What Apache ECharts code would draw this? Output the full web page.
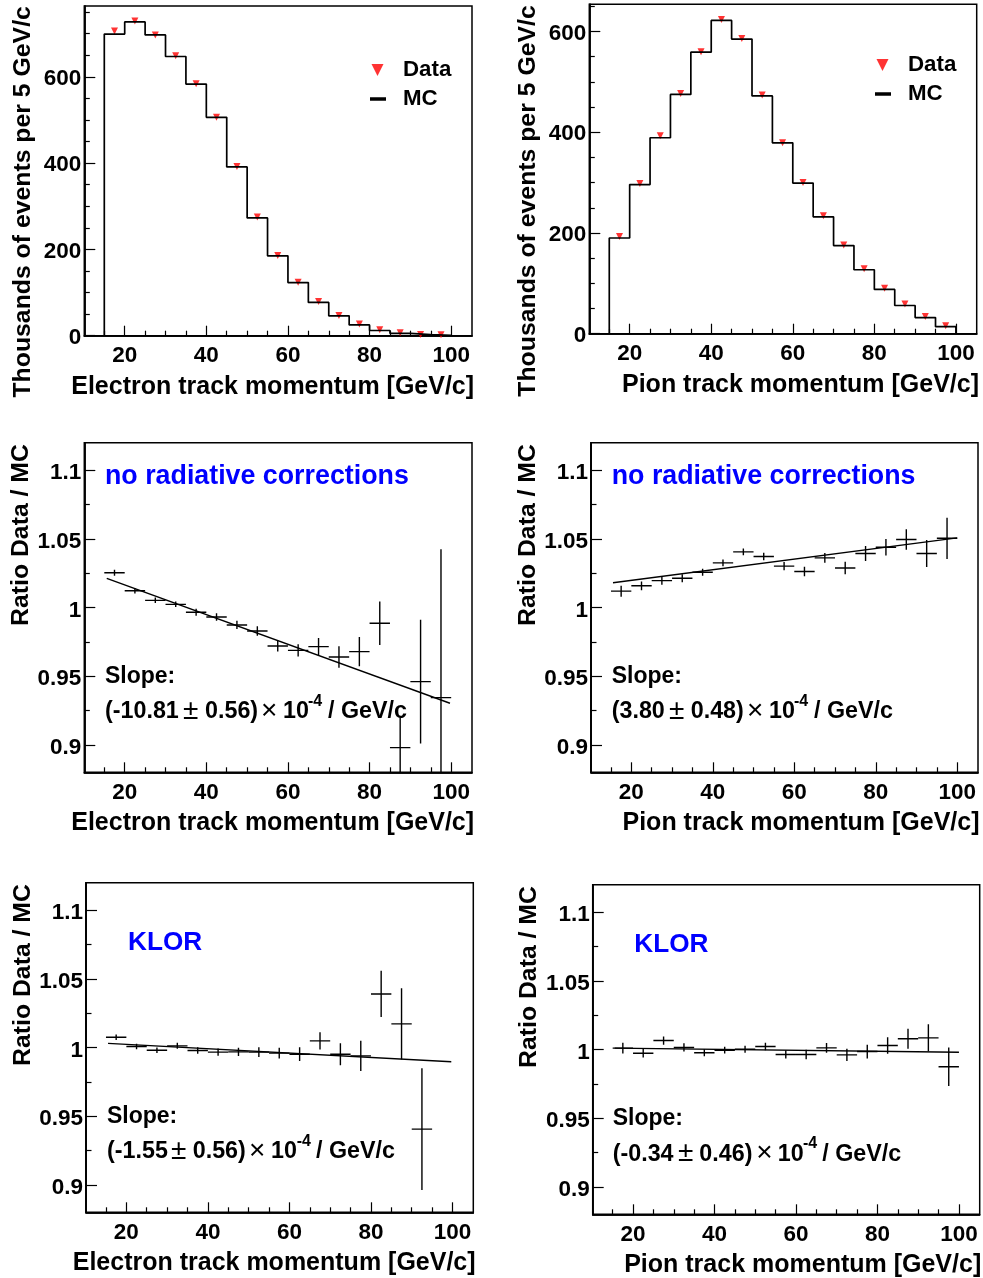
<!DOCTYPE html>
<html><head><meta charset="utf-8">
<style>html,body{margin:0;padding:0;background:#fff}#c{width:983px;height:1278px}</style>
<script src="https://cdn.jsdelivr.net/npm/echarts@6/dist/echarts.min.js"></script>
</head><body><div id="c"></div>
<script>
// ---- data ----
const binEdges = [15,20,25,30,35,40,45,50,55,60,65,70,75,80,85,90,95,100];
const binCenters = [17.5,22.5,27.5,32.5,37.5,42.5,47.5,52.5,57.5,62.5,67.5,72.5,77.5,82.5,87.5,92.5,97.5];
const electronMC = [699,727,697,647,583,506,391,273,185,123,77,46,25,12,5.5,2.5,1];
const electronData = [706,729,697,649,584,506,392,275,186,124,79,47,27,14,7,3,2];
const pionMC = [190,296,389,475,559,622,585,472,379,299,232,175,127,88,56,32,14];
const pionData = [193,298,393,477,560,624,586,474,379,300,234,176,129,90,59,34,16];
const electronNoRad = [1.0253,1.0122,1.0052,1.0023,0.9965,0.9931,0.9873,0.9829,0.972,0.9688,0.9715,0.964,0.9679,0.9885,0.898,0.946,0.9344];
const electronNoRadErr = [0.0022,0.002,0.002,0.002,0.0025,0.0027,0.003,0.0035,0.004,0.0045,0.0063,0.0078,0.0107,0.0158,0.0225,0.0451,0.108];
const electronNoRadFit = [[15.6,1.0212],[99.7,0.9303]];
const pionNoRad = [1.0119,1.0158,1.0196,1.0213,1.0257,1.0325,1.0405,1.0371,1.0301,1.0262,1.0361,1.0288,1.0393,1.0439,1.0495,1.0393,1.0504];
const pionNoRadErr = [0.004,0.0032,0.003,0.003,0.0025,0.0025,0.0025,0.0027,0.003,0.0035,0.0035,0.0045,0.0055,0.006,0.0075,0.0098,0.015];
const pionNoRadFit = [[15.5,1.018],[100,1.0507]];
const electronKlor = [1.0075,1.0007,0.998,1.0012,0.9978,0.9966,0.9968,0.9966,0.9959,0.9951,1.0048,0.9951,0.9939,1.039,1.0172,0.9406,null];
const electronKlorErr = [0.002,0.002,0.002,0.0022,0.0024,0.0026,0.003,0.0035,0.004,0.005,0.0063,0.008,0.011,0.0168,0.026,0.0443,null];
const electronKlorFit = [[15.5,1.003],[99.7,0.9896]];
const pionKlor = [1.001,0.9973,1.0065,1.0015,0.9976,0.9995,1.0002,1.0022,0.9964,0.9964,1.0012,0.9961,0.9985,1.0029,1.0078,1.0085,0.9874];
const pionKlorErr = [0.004,0.0032,0.003,0.003,0.0025,0.0025,0.0025,0.0027,0.003,0.0035,0.0035,0.0045,0.005,0.006,0.0073,0.0098,0.014];
const pionKlorFit = [[15.5,1.001],[100,0.998]];
const xMajorTicks = [20,40,60,80,100];
const xMinorTicks = [15,25,30,35,45,50,55,65,70,75,85,90,95];
const histMajorTicks = [0,200,400,600];
const electronHistMinor = [50,100,150,250,300,350,450,500,550,650,700,750];
const pionHistMinor = [50,100,150,250,300,350,450,500,550,650];
const ratioMajorTicks = [0.9,0.95,1,1.05,1.1];
const ratioMinorTicks = [0.925,0.975,1.025,1.075];

// ---- layout ----
const FONT = '"Liberation Sans", Arial, sans-serif';
const grid=[], xAxis=[], yAxis=[], series=[], legend=[], graphic=[];
function addPanel(p){
  const g = grid.length;
  grid.push({left:p.l, top:p.t, width:p.w, height:p.h, show:true, borderColor:'#000', borderWidth:1.5, backgroundColor:'#fff', containLabel:false, outerBoundsMode:'none'});
  const ax = xAxis.length;
  const xBase = {gridIndex:g,type:'value',position:'bottom',min:p.xMin,max:p.xMax,splitLine:{show:false},
    axisLine:{show:true,onZero:false,lineStyle:{color:'#000',width:1.5}}};
  xAxis.push(Object.assign({},xBase,{name:p.xName,nameLocation:'middle',nameGap:p.xGap,
    nameTextStyle:{fontFamily:FONT,fontWeight:'bold',fontSize:25,color:'#000',padding:p.xPad},
    axisTick:{show:true,inside:true,length:10,lineStyle:{color:'#000',width:1.2},customValues:xMajorTicks},
    axisLabel:{show:true,margin:9,fontFamily:FONT,fontWeight:'bold',fontSize:22.5,color:'#000',customValues:xMajorTicks}}));
  xAxis.push(Object.assign({},xBase,{
    axisTick:{show:true,inside:true,length:5,lineStyle:{color:'#000',width:1.2},customValues:xMinorTicks},
    axisLabel:{show:false}}));
  const ay = yAxis.length;
  const yBase = {gridIndex:g,type:'value',position:'left',min:p.yMin,max:p.yMax,splitLine:{show:false},
    axisLine:{show:true,onZero:false,lineStyle:{color:'#000',width:1.5}}};
  yAxis.push(Object.assign({},yBase,{name:p.yName,nameLocation:'middle',nameGap:p.yGap,
    nameTextStyle:{fontFamily:FONT,fontWeight:'bold',fontSize:24.8,color:'#000',padding:p.yPad},
    axisTick:{show:true,inside:true,length:11,lineStyle:{color:'#000',width:1.2},customValues:p.yMajor},
    axisLabel:{show:true,margin:3,fontFamily:FONT,fontWeight:'bold',fontSize:22.5,color:'#000',verticalAlign:'top',lineHeight:p.labelH,customValues:p.yMajor}}));
  yAxis.push(Object.assign({},yBase,{
    axisTick:{show:true,inside:true,length:5.5,lineStyle:{color:'#000',width:1.2},customValues:p.yMinor},
    axisLabel:{show:false}}));
  return {xAxisIndex:ax,yAxisIndex:ay};
}
function histPanel(p,mc,data,leg){
  const idx = addPanel(p);
  const steps=[[binEdges[0],0]];
  mc.forEach((v,i)=>{steps.push([binEdges[i],v]);steps.push([binEdges[i+1],v]);});
  steps.push([binEdges[binEdges.length-1],0]);
  series.push(Object.assign({},idx,{name:'MC',type:'line',data:steps,showSymbol:false,symbol:'none',silent:true,
    lineStyle:{color:'#000',width:1.7},itemStyle:{color:'#000'},z:3}));
  series.push(Object.assign({},idx,{name:'Data',type:'scatter',data:binCenters.map((x,i)=>[x,data[i]]),
    symbol:'triangle',symbolRotate:180,symbolSize:[7,7],itemStyle:{color:'#ff0000'},silent:true,z:2}));
  legend.push({show:true,padding:0,left:leg.tri-6.5,top:leg.dataTop,selectedMode:false,itemWidth:13,itemHeight:12,
    data:[{name:'Data',icon:'path://M0,0L10,0L5,10Z',itemStyle:{color:'#ff0000'}}],
    textStyle:{fontFamily:FONT,fontWeight:'bold',fontSize:22.3,color:'#000',padding:[0,0,0,leg.dataPad]}});
  legend.push({show:true,padding:0,left:leg.lineL,top:leg.mcTop,selectedMode:false,itemWidth:16,itemHeight:3.5,
    data:[{name:'MC',icon:'rect',itemStyle:{color:'#000'}}],
    textStyle:{fontFamily:FONT,fontWeight:'bold',fontSize:22.3,color:'#000',padding:[0,0,0,leg.mcPad]}});
}
function ratioPanel(p,vals,errs,fit,lab){
  const idx = addPanel(p);
  const rows = binCenters.map((x,i)=>[x,vals[i],errs[i]]).filter(r=>r[1]!==null);
  series.push(Object.assign({},idx,{name:'Fit',type:'line',data:fit,showSymbol:false,symbol:'none',silent:true,
    lineStyle:{color:'#000',width:1.4},z:2}));
  series.push(Object.assign({},idx,{name:'Ratio Data / MC',type:'custom',data:rows,silent:true,z:3,clip:true,
    encode:{x:0,y:1},
    renderItem:(params,api)=>{
      const x=api.value(0),y=api.value(1),e=api.value(2);
      const lo=Math.max(y-e,p.yMin),hi=Math.min(y+e,p.yMax);
      const a=api.coord([x-2.5,y]),b=api.coord([x+2.5,y]),c=api.coord([x,lo]),d=api.coord([x,hi]);
      const st={stroke:'#000',lineWidth:1.4,fill:null};
      return {type:'group',children:[
        {type:'line',shape:{x1:a[0],y1:a[1],x2:b[0],y2:b[1]},style:st},
        {type:'line',shape:{x1:c[0],y1:c[1],x2:d[0],y2:d[1]},style:st}]};
    }}));
  const txt=(x,base,t,size,color,weight)=>graphic.push({type:'text',z:50,silent:true,
    style:{x:x,y:base-0.35*size+2,text:t,fontFamily:FONT,fontSize:size,fontWeight:weight||'bold',fill:color||'#000',align:'left',verticalAlign:'middle'}});
  txt(lab.head[0],lab.head[1],lab.headText,lab.headSize,'#0000ff');
  txt(lab.slope[0],lab.slope[1],'Slope:',23);
  lab.parts.forEach(q=>{
    const sup=q[1]==='-4', sym=q[1]==='±'||q[1]==='×';
    if(sym){ txt(q[0]-1,lab.base+2,q[1],28,'#000','normal'); return; }
    txt(q[0],lab.base+1-(sup?13:0),q[1],sup?16:23.3,'#000','bold');
  });
}
const xRange={xMin:10.1,xMax:105.1};
const elec='Electron track momentum [GeV/c]', pion='Pion track momentum [GeV/c]';
const rr={yMin:0.88,yMax:1.12,yMajor:ratioMajorTicks,yMinor:ratioMinorTicks,yName:'Ratio Data / MC',yGap:49,yPad:[0,0,0,145],labelH:6};
histPanel(Object.assign({l:84.3,t:6,w:387.7,h:329.7,yMin:0,yMax:764,yMajor:histMajorTicks,yMinor:electronHistMinor,labelH:4,
  xName:elec,xGap:39,xPad:[0,11,0,0],yName:'Thousands of events per 5 GeV/c',yGap:49,yPad:[0,62,0,0]},xRange),
  electronMC,electronData,{tri:378,dataTop:59,dataPad:14,lineL:370,mcTop:88,mcPad:12});
histPanel(Object.assign({l:589.3,t:4.3,w:387.4,h:329.4,yMin:0,yMax:654,yMajor:histMajorTicks,yMinor:pionHistMinor,labelH:4,
  xName:pion,xGap:39,xPad:[0,0,0,35],yName:'Thousands of events per 5 GeV/c',yGap:49,yPad:[0,64,0,0]},xRange),
  pionMC,pionData,{tri:883,dataTop:54,dataPad:14,lineL:875,mcTop:83,mcPad:12});
ratioPanel(Object.assign({l:84.3,t:442.7,w:387.7,h:329.6,xName:elec,xGap:38,xPad:[0,11,0,0]},xRange,rr),
  electronNoRad,electronNoRadErr,electronNoRadFit,
  {head:[105,484],headText:'no radiative corrections',headSize:26.8,slope:[105,683],base:717,
   parts:[[105,'(-10.81'],[184,'±'],[205,'0.56)'],[262,'×'],[283,'10'],[308,'-4'],[328,'/ GeV/c']]});
ratioPanel(Object.assign({l:591,t:442.7,w:387,h:329.6,xName:pion,xGap:38,xPad:[0,0,0,33]},xRange,rr),
  pionNoRad,pionNoRadErr,pionNoRadFit,
  {head:[611.7,484],headText:'no radiative corrections',headSize:26.8,slope:[611.7,683],base:717,
   parts:[[611.7,'(3.80'],[670,'±'],[690.7,'0.48)'],[748,'×'],[769,'10'],[794,'-4'],[814,'/ GeV/c']]});
ratioPanel(Object.assign({l:86,t:882.7,w:387.3,h:329.6,xName:elec,xGap:38,xPad:[0,11,0,0]},xRange,rr),
  electronKlor,electronKlorErr,electronKlorFit,
  {head:[128,950],headText:'KLOR',headSize:26.2,slope:[107,1122.7],base:1157,
   parts:[[107,'(-1.55'],[172,'±'],[192.7,'0.56)'],[250,'×'],[271,'10'],[296.7,'-4'],[316,'/ GeV/c']]});
ratioPanel(Object.assign({l:592.7,t:884.7,w:387,h:329.6,xName:pion,xGap:38,xPad:[0,0,0,33]},xRange,rr),
  pionKlor,pionKlorErr,pionKlorFit,
  {head:[634.3,952.3],headText:'KLOR',headSize:26.2,slope:[612.7,1124.3],base:1159.3,
   parts:[[612.7,'(-0.34'],[679,'±'],[699.3,'0.46)'],[757.3,'×'],[777.7,'10'],[803,'-4'],[822.3,'/ GeV/c']]});

const chart = echarts.init(document.getElementById('c'),null,{renderer:'canvas'});
chart.setOption({animation:false,backgroundColor:'#fff',grid,xAxis,yAxis,series,legend,graphic:{elements:graphic}});
</script></body></html>
